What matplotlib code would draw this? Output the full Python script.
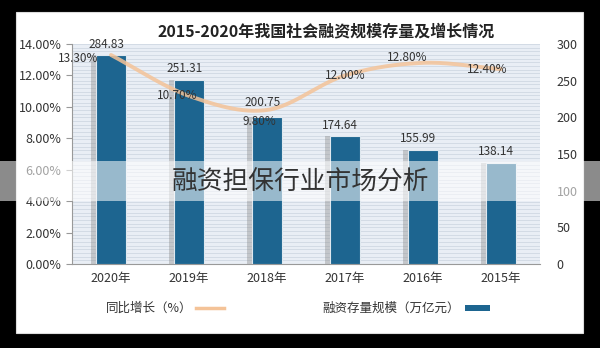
import numpy as np
import matplotlib
matplotlib.use('Agg')
import matplotlib.pyplot as plt
from matplotlib.patches import Rectangle
from matplotlib.ticker import FuncFormatter, MultipleLocator

plt.rcParams['font.family'] = ['Noto Sans CJK SC', 'DejaVu Sans']

# 数据：2015-2020 年社会融资规模存量及同比增长
years = ['2015年', '2016年', '2017年', '2018年', '2019年', '2020年']
stock = [138.14, 155.99, 174.64, 200.75, 251.31, 284.83]      # 万亿元
growth = [12.40, 12.80, 12.00, 9.80, 10.70, 13.30]             # %

BAR_COLOR = '#1d6590'
LINE_COLOR = '#f4c398'
TEXT_COLOR = '#333333'

W, H = 600, 348
fig = plt.figure(figsize=(W / 100, H / 100), dpi=100)
fig.patch.set_facecolor('black')

# 白色卡片底
fig.patches.append(Rectangle((16 / W, (H - 333) / H), (583 - 16) / W, (333 - 12) / H,
                             transform=fig.transFigure, facecolor='white',
                             edgecolor='#dddddd', lw=0.8, zorder=-1))

ax = fig.add_axes([72 / W, (H - 264) / H, (540 - 72) / W, (264 - 44) / H])
ax2 = ax.twinx()
ax.set_zorder(1)
ax2.set_zorder(2)

x = np.arange(len(years))

# 柱状图：存量规模（右侧坐标）
ax.set_facecolor('#e9eef5')
ax.bar(x + 0.07, stock, width=0.385, color='#8a8a8a', alpha=0.4, zorder=2)
bars = ax.bar(x, stock, width=0.385, color=BAR_COLOR, edgecolor='#dfe8ef', lw=0.8, zorder=3)
bar_label_lift = [6, 6, 6, 10, 6, 6]
for xi, v, lift in zip(x, stock, bar_label_lift):
    ax.text(xi + 0.06, v + lift, f'{v:.2f}', ha='center', va='bottom',
            fontsize=8.5, color=TEXT_COLOR, zorder=4)

ax.set_ylim(0, 300)
ax.set_xlim(len(years) - 0.5, -0.5)
ax.yaxis.tick_right()
ax.yaxis.set_major_locator(MultipleLocator(50))
ax.yaxis.set_minor_locator(MultipleLocator(5))
ax.grid(axis='y', which='both', color='#d3dbe5', lw=0.7, zorder=0)
ax.set_axisbelow(True)
ax.tick_params(axis='y', which='both', length=0, labelsize=9, labelcolor=TEXT_COLOR, pad=12)
ax.set_xticks(x)
ax.set_xticklabels(years, fontsize=9, color=TEXT_COLOR)
ax.tick_params(axis='x', length=0, pad=6)
for s in ['top', 'right', 'left']:
    ax.spines[s].set_visible(False)
ax.spines['bottom'].set_color('#999999')

# 折线：同比增长（左侧坐标），Catmull-Rom 平滑
def smooth(xs, ys, n=30):
    xs = np.asarray(xs, float)
    ys = np.asarray(ys, float)
    px = np.concatenate([[2 * xs[0] - xs[1]], xs, [2 * xs[-1] - xs[-2]]])
    py = np.concatenate([[2 * ys[0] - ys[1]], ys, [2 * ys[-1] - ys[-2]]])
    ox, oy = [], []
    t = np.linspace(0, 1, n)
    for i in range(1, len(px) - 2):
        for arr, out in ((px, ox), (py, oy)):
            p0, p1, p2, p3 = arr[i - 1:i + 3]
            out.extend(0.5 * (2 * p1 + (-p0 + p2) * t
                              + (2 * p0 - 5 * p1 + 4 * p2 - p3) * t ** 2
                              + (-p0 + 3 * p1 - 3 * p2 + p3) * t ** 3))
    return np.array(ox), np.array(oy)

sx, sy = smooth(x, growth)
ax2.plot(sx, sy, color=LINE_COLOR, lw=2.8, alpha=0.85, solid_capstyle='round')
label_offsets = [(0.18, 0.0), (0.2, 0.35), (0.0, 0.0), (0.1, -0.75), (0.15, 0.0), (0.42, -0.25)]
for xi, v, (dx, dy) in zip(x, growth, label_offsets):
    ax2.text(xi + dx, v + dy, f'{v:.2f}%', ha='center', va='center',
             fontsize=8.5, color=TEXT_COLOR)

ax2.set_ylim(0, 14)
ax2.yaxis.tick_left()
ax2.yaxis.set_major_locator(MultipleLocator(2))
ax2.yaxis.set_major_formatter(FuncFormatter(lambda v, _: f'{v:.2f}%'))
ax2.tick_params(axis='y', length=4, color='#999999', labelsize=9, labelcolor=TEXT_COLOR)
for s in ['top', 'right', 'bottom']:
    ax2.spines[s].set_visible(False)
ax2.spines['left'].set_color('#999999')

# 标题
fig.text(326 / W, 1 - 31 / H, '2015-2020年我国社会融资规模存量及增长情况',
         ha='center', va='center', fontsize=11.5, fontweight='bold', color='#222222')

# 图例
ly = 1 - 308 / H
fig.text(192 / W, ly, '同比增长（%）', ha='right', va='center', fontsize=9, color=TEXT_COLOR)
fig.lines.append(plt.Line2D([196 / W, 224 / W], [ly, ly], transform=fig.transFigure,
                            color=LINE_COLOR, lw=2.5))
fig.text(460 / W, ly, '融资存量规模（万亿元）', ha='right', va='center', fontsize=9, color=TEXT_COLOR)
fig.patches.append(Rectangle((465 / W, ly - 3 / H), 25 / W, 6 / H, transform=fig.transFigure,
                             facecolor=BAR_COLOR, edgecolor='none'))

# 半透明横幅
fig.patches.append(Rectangle((0, (H - 201) / H), 1, 40 / H, transform=fig.transFigure,
                             facecolor='white', alpha=0.55, edgecolor='none', zorder=5))
fig.text(0.5, 1 - 183 / H, '融资担保行业市场分析', ha='center', va='center',
         fontsize=18.5, color='#333333', zorder=6)

fig.savefig('out.png', dpi=100, facecolor=fig.get_facecolor())
